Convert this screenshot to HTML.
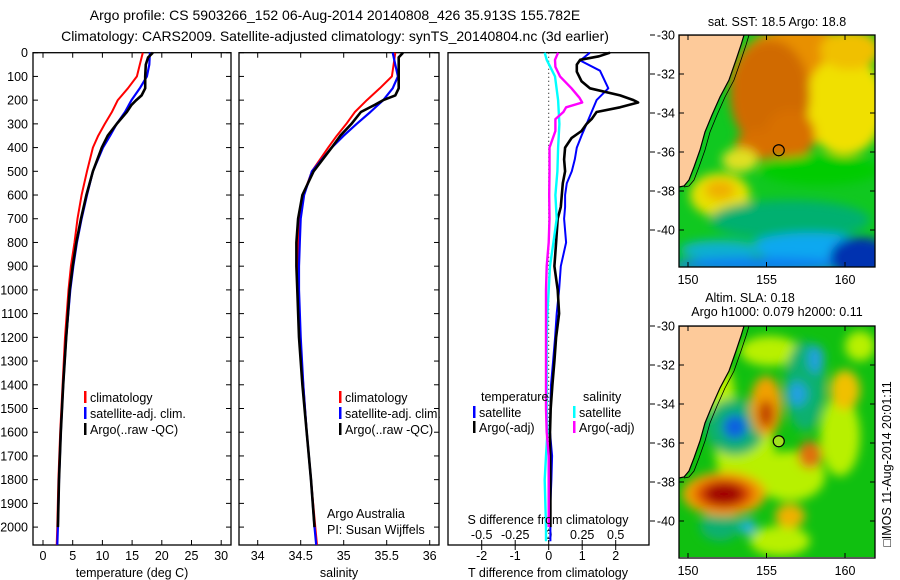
<!DOCTYPE html>
<html><head><meta charset="utf-8">
<style>
html,body{margin:0;padding:0;background:#fff;}
svg{display:block;font-family:"Liberation Sans",sans-serif;}
</style></head>
<body>
<svg id="fig" width="900" height="580" viewBox="0 0 900 580" xmlns="http://www.w3.org/2000/svg">
<defs>
<filter id="blur" x="-20%" y="-20%" width="140%" height="140%"><feGaussianBlur stdDeviation="5"/></filter>
<clipPath id="clipTop"><rect x="679" y="35" width="196" height="232"/></clipPath>
<clipPath id="clipBot"><rect x="679" y="326" width="196" height="231"/></clipPath>
</defs>
<text x="335" y="20" font-size="14" text-anchor="middle">Argo profile: CS 5903266_152 06-Aug-2014 20140808_426 35.913S 155.782E</text>
<text x="335" y="41" font-size="14" text-anchor="middle">Climatology: CARS2009. Satellite-adjusted climatology: synTS_20140804.nc (3d earlier)</text>
<g id="plots"></g>
<g id="maps"></g>
</svg>
<script>
// ---- profile data (depth in m) ----
const tempDepth = [0,50,100,150,200,250,300,350,400,500,600,700,800,900,1000,1200,1400,1600,1800,2000,2075];
const tempClim = [16.8,16.3,15.8,14.3,12.6,11.6,10.4,9.3,8.4,7.4,6.5,5.8,5.3,4.7,4.3,3.7,3.3,2.9,2.6,2.4,2.3];
const tempSat = [18.0,17.9,17.5,16.3,14.9,13.8,12.4,11.3,10.1,8.4,7.4,6.5,5.7,5.1,4.6,3.9,3.4,3.0,2.7,2.5,2.4];
const argoDepth = [0,20,50,100,150,180,200,220,250,300,350,400,500,600,700,800,900,1000,1200,1400,1600,1800,2000];
const tempArgo = [18.5,17.7,17.3,17.2,17.2,16.6,15.7,14.9,14.1,12.4,10.9,9.9,8.4,7.3,6.4,5.6,5.0,4.5,3.9,3.4,3.0,2.7,2.5];
const salClim = [35.60,35.58,35.56,35.42,35.27,35.13,35.03,34.92,34.82,34.63,34.53,34.48,34.47,34.46,34.46,34.49,34.53,34.57,34.62,34.67,34.69];
const salSat = [35.57,35.60,35.63,35.57,35.46,35.31,35.15,35.00,34.86,34.63,34.54,34.50,34.49,34.48,34.48,34.50,34.53,34.57,34.62,34.66,34.68];
const salArgo = [35.69,35.64,35.64,35.64,35.64,35.60,35.46,35.36,35.20,35.09,34.96,34.86,34.65,34.52,34.47,34.45,34.45,34.46,34.48,34.52,34.57,34.62,34.66];
const dTSatDepth = [0,33,76,150,200,250,300,350,400,450,500,550,600,650,700,800,900,1000,1100,1200,1300,1400,1500,1600,1700,1800,1900,2000,2060];
const dTSat = [1.23,0.94,1.53,1.78,1.43,1.28,1.13,0.98,0.84,0.78,0.69,0.54,0.49,0.49,0.46,0.52,0.36,0.31,0.24,0.19,0.13,0.07,0.05,0.04,0.10,0.08,0.05,0.05,0.05];
const dTArgoDepth = [0,15,30,50,80,120,150,180,200,210,230,250,280,300,330,360,400,450,500,550,600,650,700,800,900,1000,1100,1200,1300,1400,1500,1600,1800,2000];
const dTArgo = [1.83,1.5,0.94,0.84,0.84,0.98,1.23,2.13,2.53,2.67,2.13,1.43,1.28,1.13,0.98,0.68,0.49,0.46,0.49,0.42,0.39,0.36,0.27,0.22,0.17,0.27,0.31,0.22,0.17,0.11,0.06,0.04,0.05,0.05];
const dSSatDepth = [0,30,100,200,300,400,500,600,700,800,900,1000,1100,1200,1500,1600,1700,1800,2000,2060];
const dSSat = [-0.03,-0.015,0.047,0.07,0.08,0.07,0.065,0.05,0.06,0.035,0.01,0,-0.01,-0.015,-0.015,-0.01,-0.02,-0.03,-0.02,-0.02];
const dSArgoDepth = [0,30,60,100,150,190,210,230,250,280,330,400,500,600,700,800,900,1000,1500,1600,1700,1800,2000];
const dSArgo = [0.07,0.047,0.05,0.084,0.17,0.23,0.25,0.13,0.11,0.05,0.05,0.006,0.006,0.004,0.006,0.0,-0.015,-0.02,-0.02,-0.015,0,0,0];
const depthTicks = [0,100,200,300,400,500,600,700,800,900,1000,1100,1200,1300,1400,1500,1600,1700,1800,1900,2000];
const tempTicks = [0,5,10,15,20,25,30];
const salTicks = [34,34.5,35,35.5,36];
const salTickLabels = ["34","34.5","35","35.5","36"];
const dTTicks = [-2,-1,0,1,2];
const dSTicks = [-0.5,-0.25,0,0.25,0.5];
const dSTickLabels = ["-0.5","-0.25","0","0.25","0.5"];
const latTicks = [-30,-32,-34,-36,-38,-40];
const lonTicks = [150,155,160];

const NS="http://www.w3.org/2000/svg";
function mk(tag,attrs,parent,txt){const e=document.createElementNS(NS,tag);for(const k in attrs)e.setAttribute(k,attrs[k]);if(txt!==undefined)e.textContent=txt;parent.appendChild(e);return e;}
const plots=document.getElementById('plots');
const maps=document.getElementById('maps');
const yTop=52.7,yBot=545;
const yD=d=>yTop+d*0.2372;
const xT=v=>43+v*5.94;
const xS=v=>257.7+(v-34)*86;
const xDT=v=>548.7+v*33.5;
const xDS=v=>548.7+v*134;

function frame(x0,x1,name){
  const r=mk('rect',{x:x0,y:yTop,width:x1-x0,height:yBot-yTop,fill:'none',stroke:'#000','stroke-width':1.3},plots);
  
  
  depthTicks.forEach(d=>{
    mk('line',{x1:x0,x2:x0+5,y1:yD(d),y2:yD(d),stroke:'#000'},plots);
    mk('line',{x1:x1-5,x2:x1,y1:yD(d),y2:yD(d),stroke:'#000'},plots);
  });
}
function xticks(ticks,labels,fx,x0,x1,ly,nm){
  ticks.forEach((t,i)=>{
    const x=fx(t);
    mk('line',{x1:x,x2:x,y1:yBot,y2:yBot-5,stroke:'#000'},plots);
    mk('line',{x1:x,x2:x,y1:yTop,y2:yTop+5,stroke:'#000'},plots);
    const tx=mk('text',{x:x,y:ly,'font-size':12.5,'text-anchor':'middle'},plots,labels[i]);
    
    
  });
}
function line(depths,vals,fx,color,w,name){
  const pts=depths.map((d,i)=>fx(vals[i]).toFixed(1)+','+yD(d).toFixed(1)).join(' ');
  const p=mk('polyline',{points:pts,fill:'none',stroke:color,'stroke-width':w,'stroke-linejoin':'round'},plots);
  
  
}
function legend(x,y,color,label,nm){
  mk('rect',{x:x,y:y-11,width:2.5,height:12,fill:color},plots);
  const t=mk('text',{x:x+6,y:y,'font-size':12.5},plots,label);
  
  
}

depthTicks.forEach(d=>{
  const t=mk('text',{x:28,y:yD(d)+4.5,'font-size':12.5,'text-anchor':'end'},plots,String(d));
  
  
});

// panel 1: temperature
frame(33,231,'temperature-panel');
xticks(tempTicks,tempTicks.map(String),xT,33,231,560,'temperature-tick-label');
line(tempDepth,tempClim,xT,'#f00',2,'temp-climatology-line');
line(tempDepth,tempSat,xT,'#00f',2.2,'temp-satellite-line');
line(argoDepth,tempArgo,xT,'#000',2.6,'temp-argo-line');
mk('text',{x:132,y:577,'font-size':12.5,'text-anchor':'middle',},plots,'temperature (deg C)');
legend(84,402,'#f00','climatology','legend-climatology');
legend(84,418,'#00f','satellite-adj. clim.','legend-satellite');
legend(84,434,'#000','Argo(..raw -QC)','legend-argo');

// panel 2: salinity
frame(239,439,'salinity-panel');
xticks(salTicks,salTickLabels,xS,239,439,560,'salinity-tick-label');
line(tempDepth,salClim,xS,'#f00',2,'sal-climatology-line');
line(tempDepth,salSat,xS,'#00f',2.2,'sal-satellite-line');
line(argoDepth,salArgo,xS,'#000',2.6,'sal-argo-line');
mk('text',{x:339,y:577,'font-size':12.5,'text-anchor':'middle',},plots,'salinity');
legend(339,402,'#f00','climatology','legend-climatology-2');
legend(339,418,'#00f','satellite-adj. clim.','legend-satellite-2');
legend(339,434,'#000','Argo(..raw -QC)','legend-argo-2');
mk('text',{x:327,y:518,'font-size':12.5,},plots,'Argo Australia');
mk('text',{x:327,y:534,'font-size':12.5,},plots,'PI: Susan Wijffels');

// panel 3: differences
const r3=mk('rect',{x:448,y:yTop,width:201,height:yBot-yTop,fill:'none',stroke:'#000','stroke-width':1.3},plots);


dTTicks.forEach(t=>{
  const x=xDT(t);
  mk('line',{x1:x,x2:x,y1:yBot,y2:yBot+5,stroke:'#000'},plots);
  const tx=mk('text',{x:x,y:560,'font-size':12.5,'text-anchor':'middle'},plots,String(t));
  
  
});
dSTicks.forEach((t,i)=>{
  const x=xDS(t);
  mk('line',{x1:x,x2:x,y1:yBot,y2:yBot-5,stroke:'#000'},plots);
  const tx=mk('text',{x:x,y:539,'font-size':12.5,'text-anchor':'middle'},plots,dSTickLabels[i]);
  
  
});
mk('line',{x1:548.7,x2:548.7,y1:yTop,y2:yBot,stroke:'#000','stroke-dasharray':'1,3',},plots);
line(dTSatDepth,dTSat,xDT,'#00f',2,'t-diff-satellite-line');
line(dTArgoDepth,dTArgo,xDT,'#000',2.6,'t-diff-argo-line');
line(dSSatDepth,dSSat,xDS,'#0ff',2.4,'s-diff-satellite-line');
line(dSArgoDepth,dSArgo,xDS,'#f0f',2.4,'s-diff-argo-line');
mk('text',{x:548,y:577,'font-size':12.5,'text-anchor':'middle',},plots,'T difference from climatology');
mk('text',{x:548,y:524,'font-size':12.5,'text-anchor':'middle',},plots,'S difference from climatology');
mk('text',{x:481,y:401,'font-size':12.5,},plots,'temperature');
mk('text',{x:583,y:401,'font-size':12.5,},plots,'salinity');
legend(473,417,'#00f','satellite','legend-t-satellite');
legend(473,432,'#000','Argo(-adj)','legend-t-argo');
legend(573,417,'#0ff','satellite','legend-s-satellite');
legend(573,432,'#f0f','Argo(-adj)','legend-s-argo');

// ---- maps ----
const xLon=l=>688+(l-150)*15.7;
function drawMap(y0,clip,blobs,base,name,circleFill){
  const g=mk('g',{'clip-path':'url(#'+clip+')'},maps);
  
  
  mk('rect',{x:679,y:y0,width:196,height:232,fill:base},g);
  const bg=mk('g',{filter:'url(#blur)'},g);
  blobs.forEach(b=>mk('ellipse',{cx:b[0],cy:y0+b[1],rx:b[2],ry:b[3],fill:b[4]},bg));
  const lat=v=>y0+(-30-v)*19.5;
  const coast=[[744,0],[741,10],[736,25],[729,45],[720,62],[712,80],[705,97],[700,115],[694,132],[689,145],[684,151],[679,152]];
  const pts='679,'+y0+' '+coast.map(p=>p[0]+','+(y0+p[1])).join(' ');
  mk('polygon',{points:pts,fill:'#fdca9a',stroke:'#000','stroke-width':1.2},g);
  const shelf=coast.map(p=>(p[0]+5)+','+(y0+p[1])).join(' ');
  mk('polyline',{points:shelf,fill:'none',stroke:'#000','stroke-width':0.8},g);
  mk('rect',{x:679,y:y0,width:196,height:232,fill:'none',stroke:'#000','stroke-width':1.3},maps);
  latTicks.forEach(v=>{
    const y=lat(v);
    mk('line',{x1:679,x2:684,y1:y,y2:y,stroke:'#000'},maps);
    mk('line',{x1:870,x2:875,y1:y,y2:y,stroke:'#000'},maps);
    mk('line',{x1:650,x2:655,y1:y,y2:y,stroke:'#000'},maps);
    const t=mk('text',{x:675,y:y+4.5,'font-size':12.5,'text-anchor':'end'},maps,String(v));
    
    
  });
  lonTicks.forEach(v=>{
    const x=xLon(v);
    mk('line',{x1:x,x2:x,y1:y0,y2:y0+5,stroke:'#000'},maps);
    mk('line',{x1:x,x2:x,y1:y0+227,y2:y0+232,stroke:'#000'},maps);
    const t=mk('text',{x:x,y:y0+249,'font-size':12.5,'text-anchor':'middle'},maps,String(v));
    
    
  });
  const c=mk('circle',{cx:xLon(155.78),cy:lat(-35.91),r:5.5,fill:circleFill,stroke:'#000','stroke-width':1.2},maps);
  
  
}
drawMap(35,'clipTop',[
  [800,50,70,60,'#e89000'],[845,70,40,50,'#f0e000'],[850,15,30,20,'#f0c000'],
  [770,60,40,55,'#d06a00'],[790,100,25,25,'#d87000'],[760,110,25,15,'#d87000'],
  [720,160,30,22,'#e8e000'],[720,155,15,10,'#f0b000'],[740,125,18,12,'#e0e020'],
  [820,135,60,15,'#00cc00'],[790,185,80,20,'#00b070'],[810,212,60,14,'#10a8f0'],
  [720,215,40,10,'#10b0d0'],[760,230,90,8,'#1080f0'],[860,222,30,20,'#0030b0']
],'#10c820','sst-map','none');
drawMap(326,'clipBot',[
  [745,125,30,40,'#b8f000'],[720,75,15,40,'#b8f000'],[790,150,35,25,'#b8f000'],[840,110,20,40,'#b8f000'],
  [770,25,30,15,'#b8f000'],[860,20,15,15,'#b8f000'],[780,215,30,15,'#b8f000'],
  [735,101,30,28,'#10b070'],[805,60,20,45,'#10b070'],[720,200,20,15,'#10b070'],
  [735,101,12,12,'#1060e0'],[797,68,10,12,'#20a0e0'],[816,33,8,14,'#20a0e0'],[748,201,8,8,'#20b0e0'],
  [766,80,16,30,'#f0a000'],[766,88,8,14,'#c04000'],[845,64,15,20,'#f0c000'],[810,129,12,14,'#e07010'],[790,190,15,12,'#f0b000'],
  [724,168,42,22,'#f0a000'],[724,168,30,16,'#e05000'],[724,168,20,11,'#a00000']
],'#10c010','sla-map','#a0e020');
mk('text',{x:777,y:26,'font-size':12.5,'text-anchor':'middle',},maps,'sat. SST: 18.5 Argo: 18.8');
mk('text',{x:750,y:302,'font-size':12.5,'text-anchor':'middle',},maps,'Altim. SLA: 0.18');
mk('text',{x:777,y:316,'font-size':12.5,'text-anchor':'middle',},maps,'Argo h1000: 0.079 h2000: 0.11');
mk('text',{x:0,y:0,'font-size':12.5,'text-anchor':'middle',transform:'translate(891,464) rotate(-90)',},maps,'\u25A1IMOS 11-Aug-2014 20:01:11');
</script>
</body></html>
